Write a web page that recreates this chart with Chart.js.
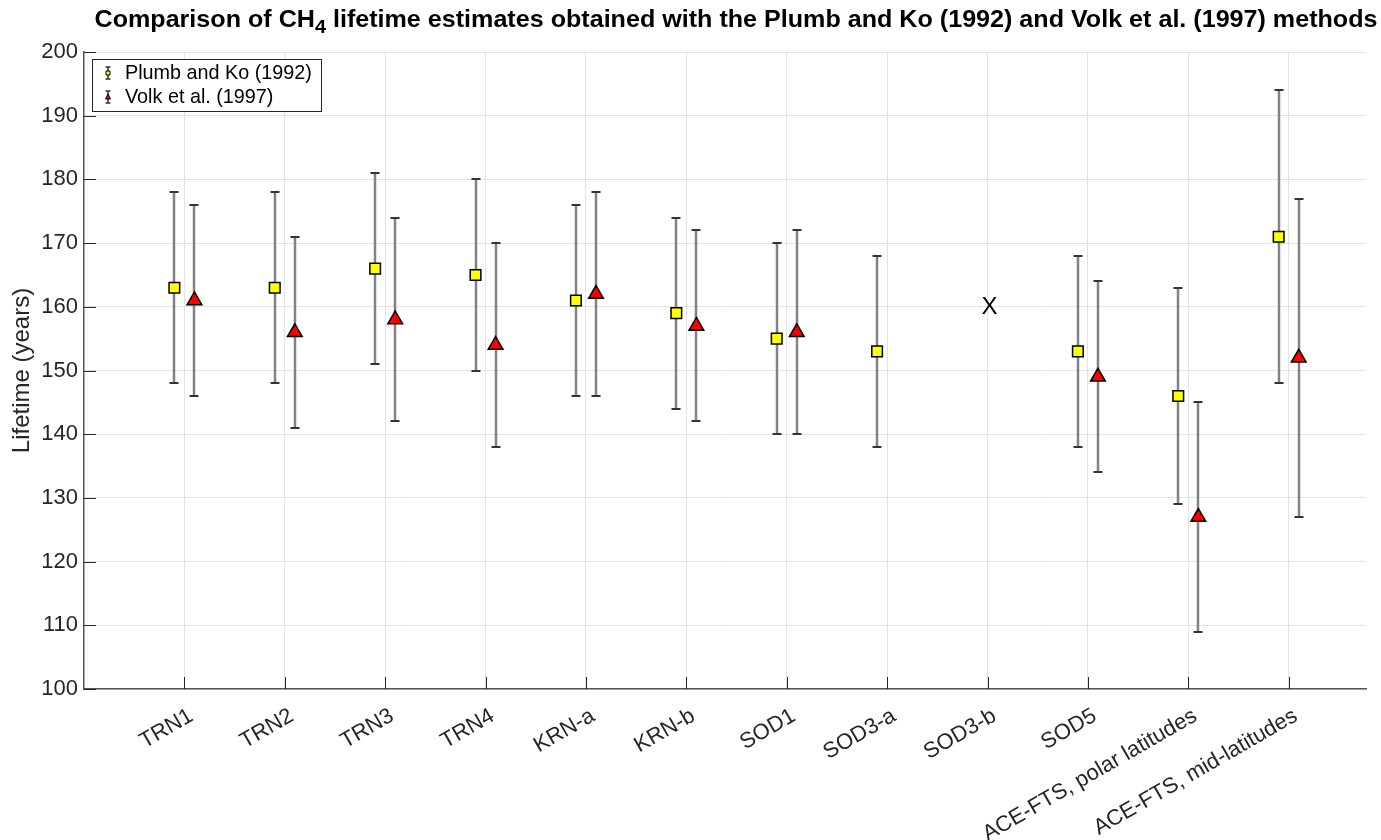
<!DOCTYPE html>
<html>
<head>
<meta charset="utf-8">
<script src="https://cdn.jsdelivr.net/npm/chart.js@4"></script>
<style>
  html, body { margin: 0; padding: 0; background: #fff; }
  #chart { display: block; }
</style>
</head>
<body>
<canvas id="chart" width="1381" height="840"></canvas>
<script>
// CH4 lifetime estimates, Plumb and Ko (1992) vs Volk et al. (1997)
const categories = ['TRN1', 'TRN2', 'TRN3', 'TRN4', 'KRN-a', 'KRN-b', 'SOD1', 'SOD3-a', 'SOD3-b', 'SOD5',
    'ACE-FTS, polar latitudes', 'ACE-FTS, mid-latitudes'];

const plumbValues = [163, 163, 166, 165, 161, 159, 155, 153, null, 153, 146, 171];
const plumbLower  = [148, 148, 151, 150, 146, 144, 140, 138, null, 138, 129, 148];
const plumbUpper  = [178, 178, 181, 180, 176, 174, 170, 168, null, 168, 163, 194];

const volkValues = [161, 156, 158, 154, 162, 157, 156, null, null, 149, 127, 152];
const volkLower  = [146, 141, 142, 138, 146, 142, 140, null, null, 134, 109, 127];
const volkUpper  = [176, 171, 174, 170, 178, 172, 172, null, null, 164, 145, 177];

const yTicks = [100, 110, 120, 130, 140, 150, 160, 170, 180, 190, 200];

// the 'X' placed where no estimate exists
const missingCategory = 'SOD3-b';
const missingValue = 160;

const FONT = '"Liberation Sans", Arial, sans-serif';
const AXIS_COLOR = '#262626';
const OFFSET = 0.1;

function makePoints(values, lower, upper, shift) {
    const pts = [];
    values.forEach(function(v, i) {
        if (v === null) return;
        pts.push({ x: i + 1 + shift, y: v, lo: lower[i], hi: upper[i] });
    });
    return pts;
}

const errorBars = {
    id: 'errorBars',
    beforeDatasetsDraw(chart) {
        const ctx = chart.ctx;
        const xs = chart.scales.x, ys = chart.scales.y;
        ctx.save();
        chart.data.datasets.forEach(function(ds) {
            ds.data.forEach(function(p) {
                const px = Math.round(xs.getPixelForValue(p.x));
                const top = Math.round(ys.getPixelForValue(p.hi));
                const bot = Math.round(ys.getPixelForValue(p.lo));
                ctx.strokeStyle = '#828282';
                ctx.lineWidth = 2.5;
                ctx.beginPath();
                ctx.moveTo(px, top);
                ctx.lineTo(px, bot);
                ctx.stroke();
                ctx.strokeStyle = '#333';
                ctx.lineWidth = 2;
                ctx.beginPath();
                ctx.moveTo(px - 4.5, top); ctx.lineTo(px + 4.5, top);
                ctx.moveTo(px - 4.5, bot); ctx.lineTo(px + 4.5, bot);
                ctx.stroke();
            });
        });
        ctx.restore();
    }
};

const decorations = {
    id: 'decorations',
    afterDraw(chart) {
        const ctx = chart.ctx;
        const area = chart.chartArea;
        const xs = chart.scales.x, ys = chart.scales.y;
        ctx.save();

        // inward tick marks
        ctx.strokeStyle = AXIS_COLOR;
        ctx.lineWidth = 1;
        ctx.beginPath();
        yTicks.forEach(function(t) {
            const py = Math.round(ys.getPixelForValue(t)) + 0.5;
            ctx.moveTo(area.left, py); ctx.lineTo(area.left + 12, py);
        });
        categories.forEach(function(c, i) {
            const px = Math.round(xs.getPixelForValue(i + 1)) + 0.5;
            ctx.moveTo(px, area.bottom); ctx.lineTo(px, area.bottom - 12);
        });
        ctx.stroke();

        // missing marker
        ctx.fillStyle = '#000';
        ctx.font = '24px ' + FONT;
        ctx.textAlign = 'center';
        ctx.textBaseline = 'middle';
        const mi = categories.indexOf(missingCategory) + 1;
        ctx.fillText('X', xs.getPixelForValue(mi) + 2, ys.getPixelForValue(missingValue) + 1);

        // title with subscript
        const parts = [
            { t: 'Comparison of CH', sub: false },
            { t: '4', sub: true },
            { t: ' lifetime estimates obtained with the Plumb and Ko (1992) and Volk et al. (1997) methods', sub: false }
        ];
        const big = 'bold 24px ' + FONT, small = 'bold 19px ' + FONT;
        let total = 0;
        parts.forEach(function(p) { ctx.font = p.sub ? small : big; p.w = ctx.measureText(p.t).width; total += p.w; });
        const targetWidth = 1283;
        const sx = targetWidth / total;
        ctx.save();
        ctx.translate(736 - targetWidth / 2, 0);
        ctx.scale(sx, 1);
        let x = 0;
        ctx.textAlign = 'left';
        ctx.textBaseline = 'alphabetic';
        parts.forEach(function(p) {
            ctx.font = p.sub ? small : big;
            ctx.fillText(p.t, x, p.sub ? 33 : 27);
            x += p.w;
        });
        ctx.restore();

        // legend box
        const lx = 92, ly = 59, lw = 229, lh = 52;
        ctx.fillStyle = '#fff';
        ctx.fillRect(lx, ly, lw, lh);
        ctx.strokeStyle = AXIS_COLOR;
        ctx.lineWidth = 1;
        ctx.strokeRect(lx + 0.5, ly + 0.5, lw, lh);
        const items = [
            { label: 'Plumb and Ko (1992)', color: '#ffff00', shape: 'rect' },
            { label: 'Volk et al. (1997)', color: '#ff0000', shape: 'tri' }
        ];
        items.forEach(function(it, k) {
            const cy = ly + 14 + k * 24;
            const cx = lx + 16;
            ctx.strokeStyle = '#333';
            ctx.lineWidth = 1.5;
            ctx.beginPath();
            ctx.moveTo(cx, cy - 6); ctx.lineTo(cx, cy + 6);
            ctx.moveTo(cx - 2.5, cy - 6); ctx.lineTo(cx + 2.5, cy - 6);
            ctx.moveTo(cx - 2.5, cy + 6); ctx.lineTo(cx + 2.5, cy + 6);
            ctx.stroke();
            ctx.fillStyle = it.color;
            ctx.strokeStyle = '#000';
            ctx.lineWidth = 1;
            ctx.beginPath();
            if (it.shape === 'rect') {
                ctx.rect(cx - 2, cy - 2, 4, 4);
            } else {
                ctx.moveTo(cx, cy - 3); ctx.lineTo(cx + 2.5, cy + 2); ctx.lineTo(cx - 2.5, cy + 2); ctx.closePath();
            }
            ctx.fill();
            ctx.stroke();
            ctx.fillStyle = '#000';
            ctx.font = '19.8px ' + FONT;
            ctx.textAlign = 'left';
            ctx.textBaseline = 'middle';
            ctx.fillText(it.label, lx + 33, cy + 1);
        });
        ctx.restore();
    }
};

new Chart(document.getElementById('chart'), {
    type: 'scatter',
    data: {
        datasets: [
            {
                label: 'Plumb and Ko (1992)',
                data: makePoints(plumbValues, plumbLower, plumbUpper, -OFFSET),
                pointStyle: 'rect',
                pointRadius: 7.5,
                backgroundColor: '#ffff00',
                borderColor: '#000',
                borderWidth: 1.5
            },
            {
                label: 'Volk et al. (1997)',
                data: makePoints(volkValues, volkLower, volkUpper, OFFSET),
                pointStyle: 'triangle',
                pointRadius: 8.5,
                backgroundColor: '#ff0000',
                borderColor: '#000',
                borderWidth: 1.5
            }
        ]
    },
    options: {
        responsive: false,
        animation: false,
        layout: { padding: { top: 52, right: 15, left: 0, bottom: 0 } },
        plugins: {
            legend: { display: false },
            title: { display: false },
            tooltip: { enabled: false }
        },
        scales: {
            x: {
                type: 'linear',
                min: 0,
                max: 12.77,
                afterBuildTicks: function(scale) {
                    scale.ticks = categories.map(function(c, i) { return { value: i + 1 }; });
                },
                afterFit: function(scale) { scale.height = 151; },
                ticks: {
                    callback: function(v) { return categories[v - 1]; },
                    minRotation: 30,
                    maxRotation: 30,
                    autoSkip: false,
                    padding: 14,
                    labelOffset: 7,
                    color: AXIS_COLOR,
                    font: { family: FONT, size: 22 }
                },
                grid: { color: '#e3e3e3', drawTicks: false },
                border: { color: '#555', width: 1.5 }
            },
            y: {
                min: 100,
                max: 200,
                afterBuildTicks: function(scale) {
                    scale.ticks = yTicks.map(function(v) { return { value: v }; });
                },
                afterFit: function(scale) { scale.width = 84; },
                ticks: {
                    padding: 6,
                    color: AXIS_COLOR,
                    font: { family: FONT, size: 22 }
                },
                title: {
                    display: true,
                    text: 'Lifetime (years)',
                    color: AXIS_COLOR,
                    padding: { top: 8, bottom: 0 },
                    font: { family: FONT, size: 24 }
                },
                grid: { color: '#e3e3e3', drawTicks: false },
                border: { color: '#555', width: 1.5 }
            }
        }
    },
    plugins: [errorBars, decorations]
});
</script>
</body>
</html>
